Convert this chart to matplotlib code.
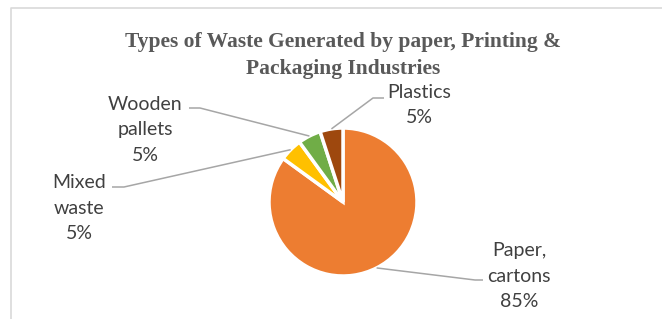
import numpy as np
import matplotlib
matplotlib.use("Agg")
import matplotlib.pyplot as plt

categories = ["Paper,\ncartons", "Mixed\nwaste", "Wooden\npallets", "Plastics"]
values = [85, 5, 5, 5]
colors = ["#ED7D31", "#FFC000", "#70AD47", "#9E480E"]
title = "Types of Waste Generated by paper, Printing &\nPackaging Industries"

W, H = 662, 319
fig = plt.figure(figsize=(W / 100, H / 100), dpi=100)
ax = fig.add_axes([0, 0, 1, 1])

def Y(ypx):
    return H - ypx

cx, cy, r = 343, Y(202), 74
wedges, _ = ax.pie(values, colors=colors, startangle=90, counterclock=False,
                   center=(cx, cy), radius=r,
                   wedgeprops=dict(edgecolor="white", linewidth=2.5))
ax.set_xlim(0, W)
ax.set_ylim(0, H)
ax.set_aspect("auto")
ax.axis("off")

# chart frame
ax.plot([11, 11, W + 5], [-5, Y(8), Y(8)], color="#D9D9D9", lw=1.2, clip_on=False)

ax.text(343, Y(55.5), title, ha="center", va="center", fontsize=15.5,
        fontweight="bold", family="Liberation Serif", color="#595959",
        linespacing=1.42)

# label layout: (text center x, text center y, elbow x, line end x) in px
layout = [
    (519, 276, 475, 483),
    (79, 208, 124, 112),
    (145, 130, 200, 189),
    (419, 105, 373, 384),
]
elbow_y = [280, 187, 108, 98]

total = sum(values)
cum = 0
for i, (lab, v) in enumerate(zip(categories, values)):
    mid = (cum + v / 2) / total * 360
    cum += v
    ang = np.deg2rad(90 - mid)
    px, py = cx + r * np.cos(ang), cy + r * np.sin(ang)
    tx, ty, ex, lx = layout[i]
    ax.plot([px, ex, lx], [py, Y(elbow_y[i]), Y(elbow_y[i])],
            color="#A6A6A6", lw=1.1, solid_capstyle="butt")
    ax.text(tx, Y(ty), f"{lab}\n{v}%", ha="center", va="center",
            fontsize=14, family="Lato", color="#404040", linespacing=1.6)

fig.savefig("out.png", dpi=100, facecolor="white")
